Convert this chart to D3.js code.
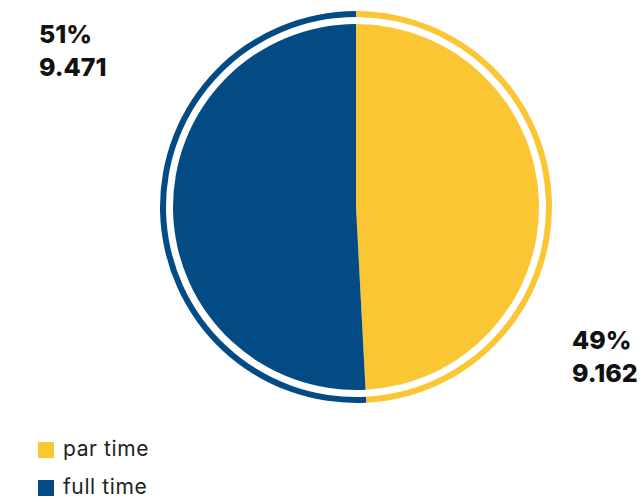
<!DOCTYPE html>
<html><head><meta charset="utf-8">
<script src="https://cdn.jsdelivr.net/npm/d3@7"></script>
<style>body{margin:0;background:#fff}svg{display:block}</style>
</head><body>
<svg id="c" width="640" height="497"></svg>
<script>
const categories = ["par time", "full time"];
const values = [9162, 9471];
const percentLabels = ["49%", "51%"];
const valueLabels = ["9.162", "9.471"];
const colors = ["#FBC634", "#034B84"];

const svg = d3.select("#c");
const cx = 356, cy = 207;
const pie = d3.pie().sort(null).value(d => d)(values);
const g = svg.append("g").attr("transform", `translate(${cx},${cy})`);
const arcIn = d3.arc().innerRadius(0).outerRadius(183);
const arcRing = d3.arc().innerRadius(190).outerRadius(196);
g.selectAll("path.p").data(pie).join("path").attr("class","p")
  .attr("d", arcIn).attr("fill", (d,i) => colors[i]);
g.selectAll("path.r").data(pie).join("path").attr("class","r")
  .attr("d", arcRing).attr("fill", (d,i) => colors[i]);

const labelPos = [[572, 349], [39, 43]];
labelPos.forEach((p, i) => {
  const t = svg.append("text").attr("x", p[0]).attr("y", p[1])
    .attr("font-family", "Inter, sans-serif").attr("font-weight", 800)
    .attr("font-size", 25).attr("fill", "#111");
  t.append("tspan").attr("x", p[0]).text(percentLabels[i]);
  t.append("tspan").attr("x", p[0]).attr("dy", 33).text(valueLabels[i]);
});

const leg = svg.append("g");
categories.forEach((c, i) => {
  const y = 442 + i * 38;
  leg.append("rect").attr("x", 38).attr("y", y).attr("width", 16).attr("height", 16).attr("fill", colors[i]);
  leg.append("text").attr("x", 63).attr("y", y + 14).attr("font-family", "Inter, sans-serif")
    .attr("font-size", 21).attr("letter-spacing", 0.6).attr("fill", "#222").text(c);
});
</script>
</body></html>
